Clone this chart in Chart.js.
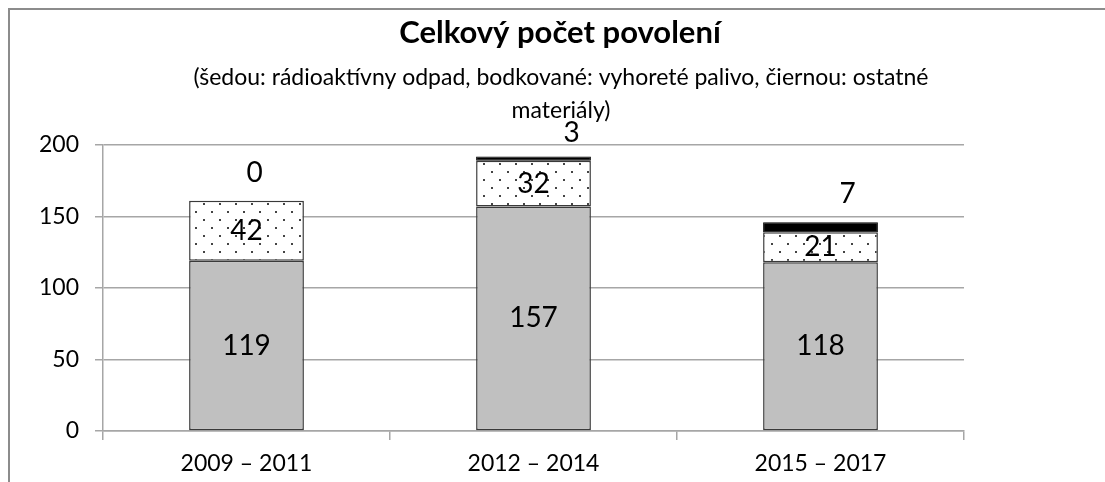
<!DOCTYPE html>
<html>
<head>
<meta charset="utf-8">
<script src="https://cdn.jsdelivr.net/npm/chart.js@4"></script>
<style>
  html, body { margin: 0; padding: 0; background: #fff; }
  #wrap { width: 1105px; height: 482px; position: relative; }
</style>
</head>
<body>
<div id="wrap"><canvas id="myChart" width="1105" height="482"></canvas></div>
<script>
var categories = ['2009 – 2011', '2012 – 2014', '2015 – 2017'];
var radioactiveWaste = [119, 157, 118];   // šedou
var spentFuel = [42, 32, 21];             // bodkované
var otherMaterials = [0, 3, 7];           // čiernou
var yTicks = [0, 50, 100, 150, 200];

var titleText = 'Celkový počet povolení';
var subtitleLines = ['(šedou: rádioaktívny odpad, bodkované: vyhoreté palivo, čiernou: ostatné', 'materiály)'];

var fontFamily = 'Lato, "Open Sans", sans-serif';

// dotted fill for the spent fuel series
var patCanvas = document.createElement('canvas');
patCanvas.width = 16;
patCanvas.height = 16;
var pctx = patCanvas.getContext('2d');
pctx.fillStyle = '#fff';
pctx.fillRect(0, 0, 16, 16);
pctx.fillStyle = '#444';
pctx.fillRect(3, 3, 2, 2);
pctx.fillRect(11, 11, 2, 2);
var element = document.getElementById('myChart').getContext('2d');
var dotPattern = element.createPattern(patCanvas, 'repeat');

// frame + title drawn on the canvas
var framePlugin = {
    id: 'frame',
    beforeDraw: function (chart) {
        var ctx = chart.ctx;
        ctx.save();
        ctx.fillStyle = '#fff';
        ctx.fillRect(0, 0, chart.width, chart.height);
        ctx.strokeStyle = '#8c8c8c';
        ctx.lineWidth = 2;
        ctx.strokeRect(9, 9, 1200, 600);
        ctx.restore();
    },
    afterDraw: function (chart) {
        var ctx = chart.ctx;
        ctx.save();
        ctx.fillStyle = '#000';
        ctx.textAlign = 'center';
        ctx.textBaseline = 'middle';
        ctx.font = 'bold 31px ' + fontFamily;
        ctx.fillText(titleText, 560, 33);
        ctx.font = '23px ' + fontFamily;
        ctx.fillText(subtitleLines[0], 561, 78);
        ctx.fillText(subtitleLines[1], 561, 111);
        ctx.restore();
    }
};

// value labels: inside for grey and dotted, above the stack for black
var labelPlugin = {
    id: 'valueLabels',
    afterDatasetsDraw: function (chart) {
        var ctx = chart.ctx;
        var topShift = [[8, -28], [38, -23], [27, -28]];
        ctx.save();
        ctx.fillStyle = '#000';
        ctx.textAlign = 'center';
        ctx.textBaseline = 'middle';
        ctx.font = '28px ' + fontFamily;
        chart.data.datasets.forEach(function (ds, di) {
            var meta = chart.getDatasetMeta(di);
            meta.data.forEach(function (bar, i) {
                var v = ds.data[i];
                if (di < 2) {
                    ctx.fillText(String(v), bar.x, (bar.y + bar.base) / 2);
                } else {
                    ctx.fillText(String(v), bar.x + topShift[i][0], bar.y + topShift[i][1]);
                }
            });
        });
        ctx.restore();
    }
};

var chartData = {
    labels: categories,
    datasets: [{
        label: 'rádioaktívny odpad',
        data: radioactiveWaste,
        backgroundColor: '#c0c0c0',
        borderColor: '#3a3a3a',
        borderWidth: 1.5,
        borderSkipped: false
    }, {
        label: 'vyhoreté palivo',
        data: spentFuel,
        backgroundColor: dotPattern,
        borderColor: '#3a3a3a',
        borderWidth: 1.5,
        borderSkipped: false
    }, {
        label: 'ostatné materiály',
        data: otherMaterials,
        backgroundColor: '#000',
        borderColor: '#000',
        borderWidth: 1,
        borderSkipped: false
    }]
};

var chartOptions = {
    responsive: false,
    animation: false,
    layout: { padding: { left: 0, right: 141, top: 145, bottom: 0 } },
    datasets: { bar: { categoryPercentage: 1, barPercentage: 0.4 } },
    plugins: {
        legend: { display: false },
        title: { display: false },
        tooltip: { enabled: false }
    },
    scales: {
        x: {
            stacked: true,
            grid: { offset: true, drawOnChartArea: false, color: '#a6a6a6', lineWidth: 1.5, tickLength: 9 },
            border: { color: '#a6a6a6', width: 1.5 },
            ticks: { color: '#000', font: { family: fontFamily, size: 23 }, padding: 10 },
            afterFit: function (s) { s.height = 51; }
        },
        y: {
            stacked: true,
            min: 0,
            max: 200,
            afterBuildTicks: function (s) { s.ticks = yTicks.map(function (v) { return { value: v }; }); },
            grid: { color: '#a6a6a6', lineWidth: 1.5, tickLength: 8 },
            border: { color: '#a6a6a6', width: 1.5 },
            ticks: { color: '#000', font: { family: fontFamily, size: 23 }, padding: 16 },
            afterFit: function (s) { s.width = 103; }
        }
    }
};

var chart = new Chart(element, { type: 'bar', data: chartData, options: chartOptions, plugins: [framePlugin, labelPlugin] });
</script>
</body>
</html>
